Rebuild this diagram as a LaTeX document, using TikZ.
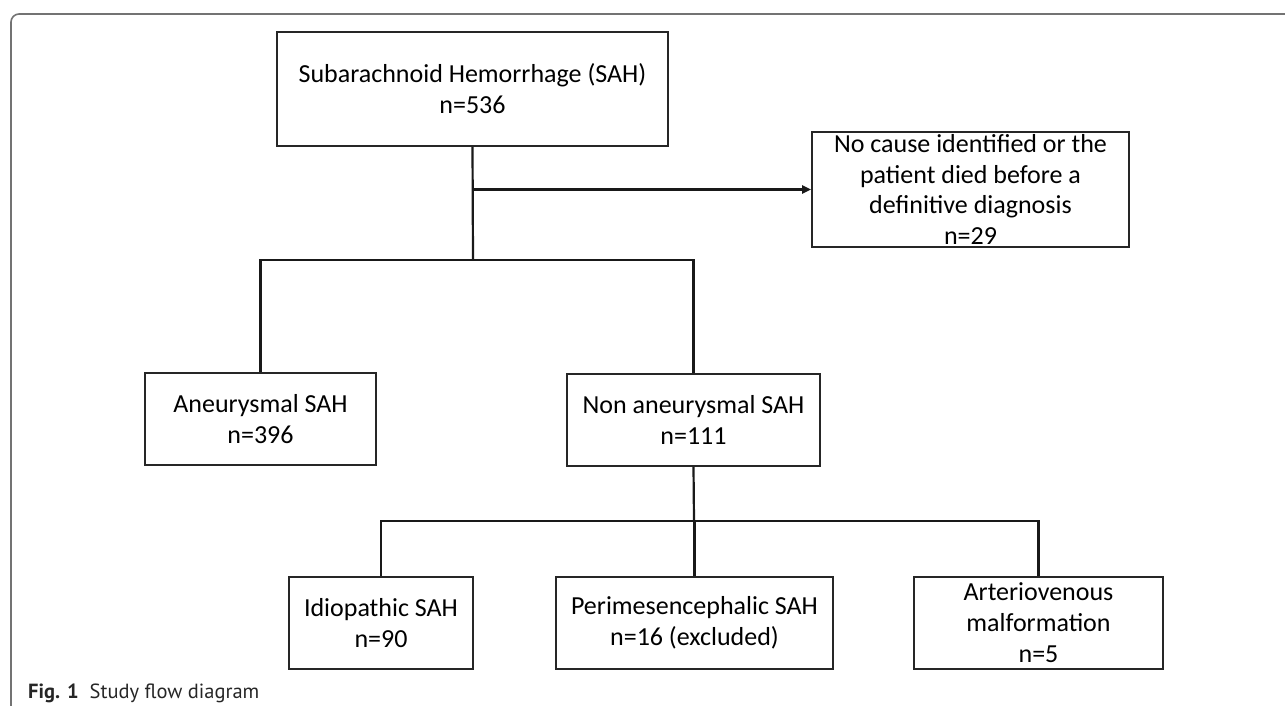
\documentclass[tikz,border=0pt]{standalone}
\usepackage{fontspec}
\setmainfont{Carlito}
\newfontfamily\capfont{PT Sans}
\usetikzlibrary{arrows.meta}
\begin{document}
\begin{tikzpicture}[
    x=1pt, y=-1pt,
    every node/.style={font=\fontsize{26}{31}\selectfont, align=center, inner sep=0pt},
    box/.style={draw=black!85, line width=1.8pt, minimum height=92pt},
    link/.style={draw=black!90, line width=2.2pt},
    arrow/.style={link, -{Triangle[length=9pt,width=8pt]}},
    frame/.style={draw=black!55, line width=1.6pt, rounded corners=8pt}
]
\useasboundingbox (0,0) rectangle (1285,706);
\draw[frame] (11,706) |- (1285,14);
\node[box, minimum width=391pt, minimum height=114pt] (sah) at (472.5,89) {Subarachnoid Hemorrhage (SAH)\\n=536};
\node[box, minimum width=317pt, minimum height=115pt, font=\fontsize{26}{30.5}\selectfont] (nocause) at (970.5,189.5) {No cause identified or the\\patient died before a\\definitive diagnosis\\n=29};
\node[box, minimum width=231pt] (aneur) at (260.5,419) {Aneurysmal SAH\\n=396};
\node[box, minimum width=253pt] (nonaneur) at (693.5,420) {Non aneurysmal SAH\\n=111};
\node[box, minimum width=184pt] (idio) at (381,623) {Idiopathic SAH\\n=90};
\node[box, minimum width=277pt] (peri) at (694.5,623) {Perimesencephalic SAH\\n=16 (excluded)};
\node[box, minimum width=249pt] (avm) at (1038.5,623) {Arteriovenous\\malformation\\n=5};
\coordinate (split1) at (473,260);
\coordinate (split2) at (694,521);
\draw[link] (sah.south) -- (split1);
\draw[arrow] (sah.south |- nocause.west) -- (nocause.west);
\draw[link] (split1) -| (aneur.north);
\draw[link] (split1) -| (nonaneur.north);
\draw[link] (nonaneur.south) -- (split2);
\draw[link] (split2) -| (idio.north);
\draw[link] (split2) -| (peri.north);
\draw[link] (split2) -| (avm.north);
\node[anchor=base west, font=\capfont\fontsize{20.5}{24}\selectfont, text=black!85] (caption) at (28,698) {\textbf{Fig. 1}\hspace{11pt}Study flow diagram};
\end{tikzpicture}
\end{document}
